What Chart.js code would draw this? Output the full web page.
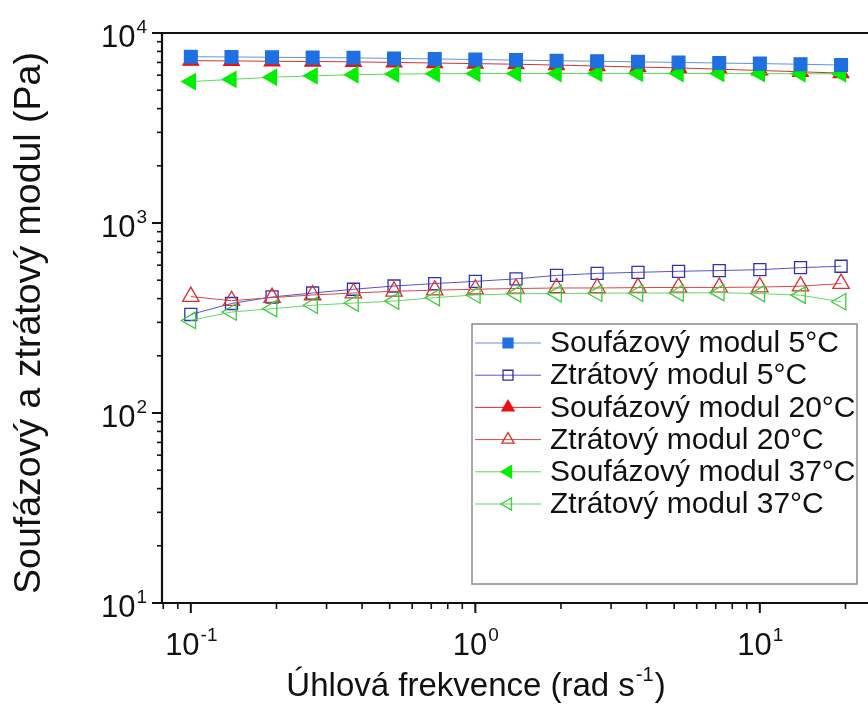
<!DOCTYPE html>
<html>
<head>
<meta charset="utf-8">
<script src="https://cdn.jsdelivr.net/npm/chart.js@4.4.1/dist/chart.umd.min.js"></script>
<style>
  html, body { margin: 0; padding: 0; background: #fff; }
  #wrap { width: 868px; height: 715px; }
</style>
</head>
<body>
<div id="wrap"><canvas id="modulChart" width="868" height="715"></canvas></div>
<script>
// angular frequency (rad/s), same for every series
const frequency = [0.1, 0.139, 0.193, 0.268, 0.373, 0.518, 0.72, 1.0, 1.39, 1.93, 2.68, 3.73, 5.18, 7.2, 10.0, 13.9, 19.3];

// storage modulus G' (Pa)
const storage5 = [7500, 7480, 7450, 7420, 7400, 7350, 7300, 7250, 7200, 7150, 7100, 7050, 7000, 6950, 6900, 6850, 6780];
const storage20 = [7150, 7130, 7100, 7080, 7050, 7000, 6950, 6900, 6850, 6780, 6700, 6620, 6550, 6450, 6350, 6250, 6150];
const storage37 = [5550, 5700, 5850, 5950, 6030, 6080, 6100, 6120, 6120, 6120, 6130, 6130, 6120, 6120, 6110, 6100, 6100];

// loss modulus G'' (Pa)
const loss5 = [330, 377, 408, 428, 448, 466, 480, 493, 508, 530, 543, 550, 557, 562, 568, 582, 592];
const loss20 = [410, 390, 405, 418, 428, 437, 443, 448, 452, 455, 455, 457, 458, 458, 460, 465, 480];
const loss37 = [307, 340, 354, 369, 379, 388, 405, 418, 424, 425, 427, 428, 428, 430, 425, 417, 385];

// texts
const seriesLabels = ["Soufázový modul 5°C", "Ztrátový modul 5°C", "Soufázový modul 20°C",
    "Ztrátový modul 20°C", "Soufázový modul 37°C", "Ztrátový modul 37°C"];
const xTitle = "Úhlová frekvence (rad s";
const xTitleSup = "-1";
const xTitleEnd = ")";
const yTitle = "Soufázový a ztrátový modul (Pa)";

// decade tick labels {value, exponent}
const xTickLabels = [ {value: 0.1, exp: "-1"}, {value: 1, exp: "0"}, {value: 10, exp: "1"} ];
const yTickLabels = [ {value: 10, exp: "1"}, {value: 100, exp: "2"}, {value: 1000, exp: "3"}, {value: 10000, exp: "4"} ];

const FONT = "'Liberation Sans', Arial, sans-serif";

// pair frequency with values -> {x, y}
function toPoints (values) {
    return values.map((v, i) => { return {x: frequency[i], y: v}; }); }

// return dataset object for one series
function createSeries (label, values, style) {
    return Object.assign({
        label: label, data: toPoints(values), borderWidth: 1, pointBorderWidth: 1.3,
        tension: 0, clip: false }, style); }

const datasets = [
    createSeries(seriesLabels[0], storage5, { borderColor: '#5d95dc', pointStyle: 'rect', pointRadius: 9,
        pointBackgroundColor: '#1f6fe0', pointBorderColor: '#1f6fe0', order: 1 }),
    createSeries(seriesLabels[1], loss5, { borderColor: '#5555c8', pointStyle: 'rect', pointRadius: 8.5,
        pointBackgroundColor: 'rgba(255,255,255,0)', pointBorderColor: '#3030b0', order: 6 }),
    createSeries(seriesLabels[2], storage20, { borderColor: '#d83030', pointStyle: 'triangle', pointRadius: 9,
        pointBackgroundColor: '#ee1010', pointBorderColor: '#ee1010', order: 3 }),
    createSeries(seriesLabels[3], loss20, { borderColor: '#d84848', pointStyle: 'triangle', pointRadius: 9.5,
        pointBackgroundColor: 'rgba(255,255,255,0)', pointBorderColor: '#d83030', order: 5 }),
    createSeries(seriesLabels[4], storage37, { borderColor: '#55dd55', pointStyle: 'triangle', pointRadius: 9,
        pointRotation: -90, pointBackgroundColor: '#00ee00', pointBorderColor: '#00ee00', order: 2 }),
    createSeries(seriesLabels[5], loss37, { borderColor: '#66d866', pointStyle: 'triangle', pointRadius: 9.5,
        pointRotation: -90, pointBackgroundColor: 'rgba(255,255,255,0)', pointBorderColor: '#3ccc3c', order: 4 }) ];

// draw "10" with a raised exponent; align = 'center' | 'right'
function drawPower (ctx, x, y, exp, align) {
    ctx.font = "31px " + FONT;
    let baseW = ctx.measureText("10").width;
    ctx.font = "19px " + FONT;
    let expW = ctx.measureText(exp).width;
    let left = align === 'right' ? x - baseW - expW : x - (baseW + expW) / 2;
    ctx.textAlign = 'left';
    ctx.textBaseline = 'alphabetic';
    ctx.font = "31px " + FONT;
    ctx.fillText("10", left, y);
    ctx.font = "19px " + FONT;
    ctx.fillText(exp, left + baseW + 1, y - 14);
}

// minor + major tick values of a log axis between min and max
function logTicks (min, max) {
    let ticks = [];
    for (let e = Math.floor(Math.log10(min)); e <= Math.ceil(Math.log10(max)); e++) {
        for (let m = 1; m <= 9; m++) {
            let v = m * Math.pow(10, e);
            if (v >= min * 0.999 && v <= max * 1.001) { ticks.push({value: v, major: m === 1}); } } }
    return ticks; }

// frame, ticks, labels, titles and legend
const decorPlugin = {
    id: 'decor',
    afterDraw (chart) {
        const ctx = chart.ctx;
        const area = chart.chartArea;
        const xs = chart.scales.x, ys = chart.scales.y;
        ctx.save();
        ctx.strokeStyle = '#111';
        ctx.fillStyle = '#111';

        // frame
        ctx.lineWidth = 2.2;
        ctx.beginPath();
        ctx.moveTo(area.right + 2, area.top); ctx.lineTo(area.left, area.top);
        ctx.lineTo(area.left, area.bottom); ctx.lineTo(area.right + 2, area.bottom);
        ctx.stroke();

        // ticks
        logTicks(xs.min, xs.max).forEach((t) => {
            let px = xs.getPixelForValue(t.value);
            ctx.lineWidth = t.major ? 2 : 1.6;
            ctx.beginPath(); ctx.moveTo(px, area.bottom); ctx.lineTo(px, area.bottom + (t.major ? 10 : 6)); ctx.stroke(); });
        logTicks(ys.min, ys.max).forEach((t) => {
            let py = ys.getPixelForValue(t.value);
            ctx.lineWidth = t.major ? 2 : 1.6;
            ctx.beginPath(); ctx.moveTo(area.left, py); ctx.lineTo(area.left - (t.major ? 10 : 5), py); ctx.stroke(); });

        // tick labels
        xTickLabels.forEach((t) => { drawPower(ctx, xs.getPixelForValue(t.value), area.bottom + 52, t.exp, 'center'); });
        yTickLabels.forEach((t) => { drawPower(ctx, area.left - 16, ys.getPixelForValue(t.value) + 14, t.exp, 'right'); });

        // x title with superscript
        ctx.font = "33px " + FONT;
        let w1 = ctx.measureText(xTitle).width, w3 = ctx.measureText(xTitleEnd).width;
        ctx.font = "20px " + FONT;
        let w2 = ctx.measureText(xTitleSup).width;
        let tx = 476 - (w1 + w2 + w3 + 2) / 2;
        ctx.textAlign = 'left';
        ctx.font = "33px " + FONT;
        ctx.fillText(xTitle, tx, 696);
        ctx.fillText(xTitleEnd, tx + w1 + w2 + 2, 696);
        ctx.font = "20px " + FONT;
        ctx.fillText(xTitleSup, tx + w1 + 1, 681);

        // y title
        ctx.save();
        ctx.translate(40, 323);
        ctx.rotate(-Math.PI / 2);
        ctx.textAlign = 'center';
        ctx.font = "37.5px " + FONT;
        ctx.fillText(yTitle, 0, 0);
        ctx.restore();

        // legend
        ctx.lineWidth = 1.5;
        ctx.strokeStyle = '#8a8a8a';
        ctx.strokeRect(472, 324, 385, 260);
        chart.data.datasets.forEach((ds, i) => {
            let rowY = 343 + i * 32.2;
            ctx.lineWidth = 1;
            ctx.strokeStyle = ds.borderColor;
            ctx.beginPath(); ctx.moveTo(475, rowY); ctx.lineTo(541, rowY); ctx.stroke();
            ctx.fillStyle = ds.pointBackgroundColor;
            ctx.strokeStyle = ds.pointBorderColor;
            ctx.lineWidth = 1.3;
            Chart.helpers.drawPoint(ctx, { pointStyle: ds.pointStyle, rotation: ds.pointRotation || 0,
                radius: 7, borderWidth: 1.3 }, 508, rowY);
            ctx.fillStyle = '#111';
            ctx.font = "30px " + FONT;
            ctx.textAlign = 'left';
            ctx.textBaseline = 'middle';
            ctx.fillText(ds.label, 550, rowY + 1);
            ctx.textBaseline = 'alphabetic'; });
        ctx.restore();
    }
};

const modulChart = new Chart("modulChart", {
    type: 'line',
    data: { datasets: datasets },
    options: {
        responsive: false,
        animation: false,
        layout: { autoPadding: false, padding: { left: 162, top: 33, right: 0, bottom: 112 } },
        scales: {
            x: { type: 'logarithmic', min: 0.0792, max: 24.0, display: false },
            y: { type: 'logarithmic', min: 10, max: 10000, display: false }
        },
        plugins: { legend: { display: false }, tooltip: { enabled: false } }
    },
    plugins: [decorPlugin]
});
</script>
</body>
</html>
